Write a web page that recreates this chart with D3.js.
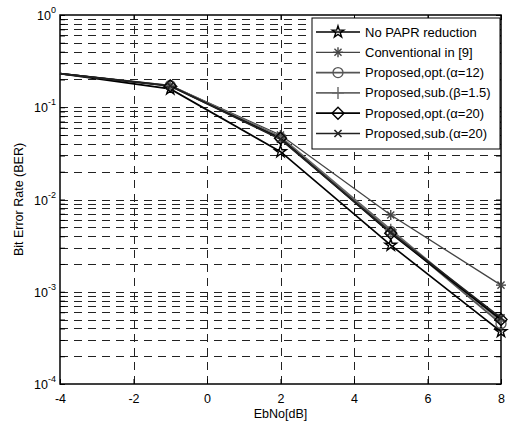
<!DOCTYPE html>
<html><head><meta charset="utf-8">
<script src="https://cdn.jsdelivr.net/npm/d3@7"></script>
<style>body{margin:0;background:#fff}svg{display:block;font-family:"Liberation Sans",Arial,sans-serif}</style>
</head><body><svg id="c" width="511" height="426"></svg>
<script>
const ebno = [-4, -1, 2, 5, 8];
const seriesNames = ["No PAPR reduction","Conventional in [9]","Proposed,opt.(α=12)","Proposed,sub.(β=1.5)","Proposed,opt.(α=20)","Proposed,sub.(α=20)"];
const noPapr   = [0.232, 0.158, 0.033, 0.0032, 0.00037];
const conv9    = [0.232, 0.172, 0.050, 0.0068, 0.00118];
const opt12    = [0.232, 0.172, 0.047, 0.0045, 0.00045];
const sub15    = [0.232, 0.172, 0.048, 0.0047, 0.00048];
const opt20    = [0.232, 0.170, 0.046, 0.0043, 0.00050];
const sub20    = [0.232, 0.170, 0.045, 0.0044, 0.00052];
const xTicks = [-4,-2,0,2,4,6,8];
const yExps = [0,-1,-2,-3,-4];

const seriesVals = [noPapr, conv9, opt12, sub15, opt20, sub20];
const markers = ["star","asterisk","circle","plus","diamond","cross"];
const colors = ["#000","#444","#555","#666","#000","#222"];
const widths = [1.7,1.3,1.7,1.7,1.7,1.7];

const L=60,R=501,T=15,B=384;
const FS=12.5;
const svg = d3.select("#c");
const x = d3.scaleLinear().domain([-4,8]).range([L,R]);
const y = d3.scaleLog().domain([1e-4,1]).range([B,T]);

// grid
const g = svg.append("g");
const minorY = [];
for (let e=-4;e<0;e++) for (let m=1;m<10;m++) minorY.push(m*Math.pow(10,e));
minorY.push(1);
g.selectAll(".hy").data(minorY.filter(v=>v>1e-4 && v<1)).enter().append("line")
 .attr("x1",L).attr("x2",R).attr("y1",d=>Math.round(y(d))+0.5).attr("y2",d=>Math.round(y(d))+0.5)
 .attr("stroke","#222").attr("stroke-width",1).attr("stroke-dasharray","8,6");
g.selectAll(".vx").data(xTicks.slice(1,-1)).enter().append("line")
 .attr("y1",B).attr("y2",T).attr("x1",d=>Math.round(x(d))+0.5).attr("x2",d=>Math.round(x(d))+0.5)
 .attr("stroke","#222").attr("stroke-width",1).attr("stroke-dasharray","8,6");

// axes ticks (inside)
const ax = svg.append("g").attr("transform",`translate(0,${B})`).call(d3.axisBottom(x).tickValues(xTicks).tickSize(-5).tickPadding(10).tickFormat(d=>String(d)));
ax.select(".domain").remove();
ax.selectAll("text").attr("font-size",FS).attr("fill","#000").attr("font-family","Liberation Sans, Arial, sans-serif");
const axT = svg.append("g").attr("transform",`translate(0,${T})`).call(d3.axisTop(x).tickValues(xTicks).tickSize(-5).tickFormat(""));
axT.select(".domain").remove();
const ay = svg.append("g").attr("transform",`translate(${L},0)`).call(d3.axisLeft(y).tickValues(minorY).tickSize(-5).tickFormat(""));
ay.select(".domain").remove();
const ayR = svg.append("g").attr("transform",`translate(${R},0)`).call(d3.axisRight(y).tickValues(minorY).tickSize(-5).tickFormat(""));
ayR.select(".domain").remove();

// y labels 10^e
const yl = svg.append("g");
yExps.forEach(e=>{
  const t = yl.append("text").attr("x",L-4).attr("y",y(Math.pow(10,e))+5).attr("text-anchor","end").attr("font-size",FS);
  t.append("tspan").text("10");
  t.append("tspan").attr("dy",-7).attr("font-size",9).text(e);
});

// box
svg.append("rect").attr("x",L).attr("y",T).attr("width",R-L).attr("height",B-T).attr("fill","none").attr("stroke","#000").attr("stroke-width",1.5);

// labels
svg.append("text").attr("x",(L+R)/2).attr("y",418).attr("text-anchor","middle").attr("font-size",FS).text("EbNo[dB]");
svg.append("text").attr("transform",`translate(23,${(T+B)/2}) rotate(-90)`).attr("text-anchor","middle").attr("font-size",FS).text("Bit Error Rate (BER)");

function marker(sel, type, color){
  const s=5;
  if(type==="star"){
    sel.append("path").attr("d",d3.symbol(d3.symbolStar,42)()).attr("fill","none").attr("stroke",color).attr("stroke-width",1.4);
  } else if(type==="asterisk"){
    [0,45,90,135].forEach(a=>sel.append("line").attr("x1",-s).attr("x2",s).attr("y1",0).attr("y2",0).attr("transform",`rotate(${a})`).attr("stroke",color).attr("stroke-width",1.4));
  } else if(type==="circle"){
    sel.append("circle").attr("r",5).attr("fill","none").attr("stroke",color).attr("stroke-width",1.3);
  } else if(type==="plus"){
    [0,90].forEach(a=>sel.append("line").attr("x1",-6).attr("x2",6).attr("transform",`rotate(${a})`).attr("stroke",color).attr("stroke-width",1.4));
  } else if(type==="diamond"){
    sel.append("path").attr("d","M0,-6L6,0L0,6L-6,0Z").attr("fill","none").attr("stroke",color).attr("stroke-width",1.4);
  } else if(type==="cross"){
    [45,135].forEach(a=>sel.append("line").attr("x1",-5).attr("x2",5).attr("transform",`rotate(${a})`).attr("stroke",color).attr("stroke-width",1.6));
  }
}

const line = d3.line().x((d,i)=>x(ebno[i])).y(d=>y(d));
seriesVals.forEach((vals,k)=>{
  svg.append("path").attr("d",line(vals)).attr("fill","none").attr("stroke",colors[k]).attr("stroke-width",widths[k]);
});
seriesVals.forEach((vals,k)=>{
  vals.forEach((v,i)=>{ if(i===0) return; const m=svg.append("g").attr("transform",`translate(${x(ebno[i])},${y(v)})`); marker(m,markers[k],colors[k]); });
});

// legend
const lg = svg.append("g");
lg.append("rect").attr("x",312).attr("y",18).attr("width",188).attr("height",131).attr("fill","#fff").attr("stroke","#000").attr("stroke-width",1);
seriesNames.forEach((n,k)=>{
  const yy = 32 + k*20.3;
  lg.append("line").attr("x1",316).attr("x2",360).attr("y1",yy).attr("y2",yy).attr("stroke",colors[k]).attr("stroke-width",widths[k]);
  const m = lg.append("g").attr("transform",`translate(338,${yy})`); marker(m,markers[k],colors[k]);
  lg.append("text").attr("x",365).attr("y",yy+4.5).attr("font-size",13).text(n);
});
</script></body></html>
